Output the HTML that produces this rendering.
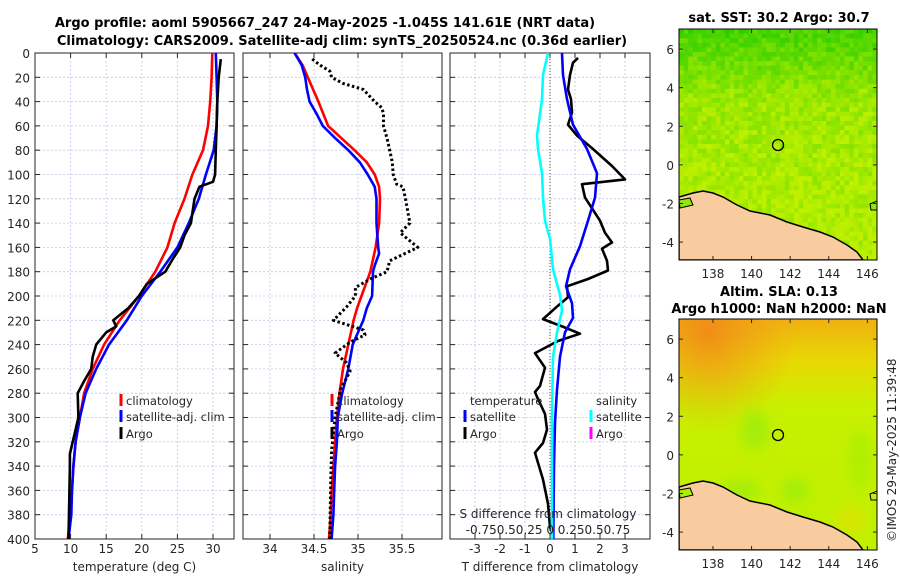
<!DOCTYPE html>
<html><head><meta charset="utf-8"><style>
html,body{margin:0;padding:0;background:#fff;}
svg{display:block;font-family:"DejaVu Sans","Liberation Sans",sans-serif;}
.tk{font-size:12px;fill:#262626;}
.lg{font-size:11.5px;fill:#262626;}
.tt{font-size:13px;font-weight:bold;fill:#000;}
</style></head><body>
<svg id="svg" width="900" height="580" viewBox="0 0 900 580" xmlns="http://www.w3.org/2000/svg">
<defs>
<linearGradient id="g2" x1="0" y1="0" x2="0" y2="1">
<stop offset="0" stop-color="#f0b010"/><stop offset="0.18" stop-color="#e8d804"/><stop offset="0.38" stop-color="#c8f000"/><stop offset="1" stop-color="#bef000"/>
</linearGradient>
<radialGradient id="r2" cx="0.15" cy="0.05" r="0.45">
<stop offset="0" stop-color="#f08818" stop-opacity="0.9"/><stop offset="1" stop-color="#f0a018" stop-opacity="0"/>
</radialGradient>
<filter id="bl"><feGaussianBlur stdDeviation="6"/></filter>
<clipPath id="c1"><rect x="679" y="29" width="198" height="231"/></clipPath>
<clipPath id="c2"><rect x="679" y="319" width="198" height="231"/></clipPath>
</defs>

<text class="tt" x="325" y="27" text-anchor="middle">Argo profile: aoml 5905667_247 24-May-2025 -1.045S 141.61E (NRT data)</text>
<text class="tt" x="342" y="45" text-anchor="middle">Climatology: CARS2009. Satellite-adj clim: synTS_20250524.nc (0.36d earlier)</text>

<g id="panels"></g>

<!-- map 1 -->
<g>
<text class="tt" x="779" y="22" text-anchor="middle">sat. SST: 30.2 Argo: 30.7</text>
<g clip-path="url(#c1)">
<rect x="679" y="29" width="198" height="231" fill="#98ec04"/>
<g id="sstcells"></g>
<polygon fill="#f9cca0" stroke="#000" stroke-width="1.5" points="679,197 693,193 703,191 713,193 723,197 737,205 750,211 770,215 787,222 803,227 820,232 833,237 847,245 857,252 863,260 679,260"/>
<polygon fill="#8ee808" stroke="#000" stroke-width="1" points="679,200 690,198 693,205 680,208"/>
<polygon fill="#8ee808" stroke="#000" stroke-width="1" points="870,204 877,201 877,210 871,210"/>
</g>
<rect x="679" y="29" width="198" height="231" fill="none" stroke="#000" stroke-width="1"/>
<circle cx="778" cy="145" r="5.5" fill="none" stroke="#000" stroke-width="1.3"/>
<g id="m1ax"></g>
</g>

<!-- map 2 -->
<g>
<text class="tt" x="779" y="296" text-anchor="middle">Altim. SLA: 0.13</text>
<text class="tt" x="779" y="313" text-anchor="middle">Argo h1000: NaN h2000: NaN</text>
<g clip-path="url(#c2)">
<rect x="679" y="319" width="198" height="231" fill="url(#g2)"/>
<rect x="679" y="319" width="198" height="231" fill="url(#r2)"/>
<g filter="url(#bl)" opacity="0.7">
<ellipse cx="755" cy="430" rx="14" ry="20" fill="#98ec08"/>
<ellipse cx="795" cy="490" rx="14" ry="12" fill="#98ec08"/>
<ellipse cx="740" cy="490" rx="20" ry="10" fill="#98ec08"/>
<ellipse cx="860" cy="460" rx="12" ry="30" fill="#a8ee04"/>
<ellipse cx="850" cy="520" rx="16" ry="14" fill="#e0e000"/>
</g>
<polygon fill="#f9cca0" stroke="#000" stroke-width="1.5" points="679,487 693,483 703,481 713,483 723,487 737,495 750,501 770,505 787,512 803,517 820,522 833,527 847,535 857,542 863,550 679,550"/>
<polygon fill="#a8f000" stroke="#000" stroke-width="1" points="679,490 690,488 693,495 680,498"/>
<polygon fill="#c8f000" stroke="#000" stroke-width="1" points="870,494 877,491 877,500 871,500"/>
</g>
<rect x="679" y="319" width="198" height="231" fill="none" stroke="#000" stroke-width="1"/>
<circle cx="778" cy="435" r="5.5" fill="none" stroke="#000" stroke-width="1.3"/>
<g id="m2ax"></g>
</g>
<text class="tk" transform="translate(896,542) rotate(-90)">©IMOS 29-May-2025 11:39:48</text>
</svg>
<script>
// ---------- data ----------
const depthTicks = [0,20,40,60,80,100,120,140,160,180,200,220,240,260,280,300,320,340,360,380,400];
const tempTicks = [5,10,15,20,25,30];
const salTicks = [34,34.5,35,35.5];
const dTTicks = [-3,-2,-1,0,1,2,3];

const climTDepth = [0,20,40,60,80,100,120,140,160,180,200,220,240,260,280,300,320,340,360,380,400];
const climT = [29.9,29.8,29.6,29.3,28.6,27.1,26.0,24.6,23.6,21.9,19.6,16.9,14.7,13.1,11.9,11.3,10.7,10.4,10.2,10.0,9.6];
const satTDepth = [0,20,40,60,80,100,120,140,160,180,200,220,240,260,280,300,320,340,360,380,400];
const satT = [30.4,30.5,30.6,30.5,30.1,29.0,28.0,26.6,25.0,22.6,20.0,17.9,15.4,13.6,12.1,11.3,10.7,10.4,10.2,10.1,9.7];
const argoTDepth = [5,20,40,60,80,100,106,110,120,140,150,160,170,180,190,200,210,220,225,230,240,250,260,270,280,300,310,320,330,340,400];
const argoT = [31.1,30.8,30.6,30.5,30.4,30.3,30.0,28.1,27.4,26.9,26.0,25.4,24.3,23.3,20.7,19.6,18.1,16.0,16.4,15.0,13.6,13.1,12.9,11.9,11.0,11.1,10.7,10.3,9.9,9.9,9.7];

const climSDepth = [0,10,20,40,60,80,90,100,110,120,140,160,180,200,210,220,240,260,280,300,320,340,360,380,400];
const climS = [34.28,34.37,34.43,34.55,34.66,34.96,35.1,35.19,35.24,35.25,35.24,35.2,35.14,35.04,34.99,34.95,34.89,34.83,34.79,34.76,34.74,34.72,34.70,34.69,34.67];
const satSDepth = [0,10,20,30,40,50,60,70,80,90,100,110,120,140,160,165,175,180,200,210,220,230,240,260,280,300,320,340,360,380,400];
const satS = [34.28,34.36,34.40,34.42,34.45,34.53,34.60,34.74,34.89,35.02,35.11,35.19,35.21,35.21,35.23,35.24,35.19,35.17,35.16,35.10,35.06,35.00,34.94,34.89,34.82,34.77,34.76,34.74,34.73,34.72,34.70];
const argoSDepth = [5,10,15,20,25,30,40,45,50,60,70,80,90,100,108,110,120,140,148,160,171,180,186,193,200,209,220,228,232,238,247,255,262,277,300,327,354,400];
const argoS = [34.48,34.57,34.68,34.70,34.83,35.06,35.19,35.27,35.29,35.29,35.33,35.36,35.39,35.40,35.44,35.51,35.54,35.59,35.48,35.68,35.36,35.33,35.14,34.97,34.97,34.87,34.72,35.06,35.08,34.91,34.74,34.87,34.91,34.80,34.74,34.70,34.69,34.68];

const satDTDepth = [0,18,38,59,79,99,119,138,159,178,192,206,218,230,250,277,304,340,400];
const satDT = [0.48,0.52,0.68,0.92,1.48,1.88,1.8,1.52,1.2,0.8,0.64,0.88,0.92,0.6,0.4,0.28,0.2,0.16,0.13];
const satDSDepth = [0,18,38,68,79,99,119,138,153,178,199,212,230,250,300,400];
const satDS = [-0.02,-0.07,-0.08,-0.13,-0.12,-0.08,-0.07,-0.05,0,0.03,0.10,0.12,0.07,0.03,0.02,0.02];
const argoDTDepth = [4,8,18,30,38,49,59,68,79,93,104,108,119,138,148,156,161,171,179,186,192,201,208,219,225,231,237,247,259,274,279,283,297,310,321,329,351,371,390,398];
const argoDT = [1.12,0.92,0.8,0.72,0.84,0.88,0.72,1.08,1.72,2.48,3.0,1.28,1.4,2.0,2.2,2.48,2.08,2.28,2.32,1.52,0.68,0.72,0.32,-0.28,0.48,1.2,0.32,-0.6,-0.2,-0.4,-0.6,-0.52,-0.2,-0.12,-0.28,-0.6,-0.28,-0.08,0,0.12];

const lonTicks = [138,140,142,144,146];
const latTicks = [-4,-2,0,2,4,6];

// ---------- helpers ----------
const NS = 'http://www.w3.org/2000/svg';
const root = document.getElementById('panels');
function mk(tag, attrs, parent){ const e=document.createElementNS(NS,tag); for(const k in attrs) e.setAttribute(k,attrs[k]); (parent||root).appendChild(e); return e; }
const Y0=53, Y1=539;
const yD = d => Y0 + d*(Y1-Y0)/400;
function xs(x0,x1,v0,v1){ return v => x0 + (v-v0)*(x1-x0)/(v1-v0); }

function panel(name, x0, x1, xf, ticks, labelTicks, xlabel, showY){
  const g = mk('g',{});
  
  
  depthTicks.forEach(d=>{
    mk('line',{x1:x0,x2:x1,y1:yD(d),y2:yD(d),stroke:'#c0c6e6','stroke-width':0.8,'stroke-dasharray':'2,2'},g);
  });
  ticks.forEach(t=>{
    mk('line',{x1:xf(t),x2:xf(t),y1:Y0,y2:Y1,stroke:'#c0c6e6','stroke-width':0.8,'stroke-dasharray':'2,2'},g);
  });
  depthTicks.forEach(d=>{
    mk('line',{x1:x0,x2:x0+5,y1:yD(d),y2:yD(d),stroke:'#262626'},g);
    mk('line',{x1:x1-5,x2:x1,y1:yD(d),y2:yD(d),stroke:'#262626'},g);
    if(showY){ const t=mk('text',{x:x0-5,y:yD(d)+5,'text-anchor':'end',class:'tk'},g); t.textContent=d;
        }
  });
  ticks.forEach(v=>{
    mk('line',{x1:xf(v),x2:xf(v),y1:Y1,y2:Y1-5,stroke:'#262626'},g);
    mk('line',{x1:xf(v),x2:xf(v),y1:Y0,y2:Y0+5,stroke:'#262626'},g);
  });
  if(labelTicks){ labelTicks.forEach(v=>{
    const t=mk('text',{x:xf(v),y:553,'text-anchor':'middle',class:'tk'},g); t.textContent=v;
      }); }
  const xl=mk('text',{x:(x0+x1)/2,y:571,'text-anchor':'middle',class:'tk'},g); xl.textContent=xlabel;
  
  
  mk('rect',{x:x0,y:Y0,width:x1-x0,height:Y1-Y0,fill:'none',stroke:'#262626','stroke-width':1},g);
  return g;
}
function line(g, name, depths, vals, xf, color, dash, w){
  const pts = depths.map((d,i)=>xf(vals[i]).toFixed(1)+','+yD(d).toFixed(1)).join(' ');
  const p = mk('polyline',{points:pts,fill:'none',stroke:color,'stroke-width':w||2.6,'stroke-linejoin':'round'},g);
  if(dash) p.setAttribute('stroke-dasharray',dash);
  
  
}
function legend(g, x, y, color, label, name){
  mk('rect',{x:x-1.5,y:y-11,width:3,height:12,fill:color},g);
  const t=mk('text',{x:x+5,y:y,class:'lg'},g); t.textContent=label;
  
  
}

// Panel 1: temperature
const xT = xs(35,213,5,30);
const p1 = panel('temperature-panel',35,234,xT,tempTicks,tempTicks,'temperature (deg C)',true);
line(p1,'climatology-temperature-line',climTDepth,climT,xT,'#ff0000');
line(p1,'satellite-temperature-line',satTDepth,satT,xT,'#0000ff');
line(p1,'argo-temperature-line',argoTDepth,argoT,xT,'#000000');
legend(p1,121,405,'#ff0000','climatology','legend-climatology');
legend(p1,121,421,'#0000ff','satellite-adj. clim','legend-satellite');
legend(p1,121,438,'#000000','Argo','legend-argo');

// Panel 2: salinity
const xS = xs(270,358,34,35);
const p2 = panel('salinity-panel',243,442,xS,salTicks,salTicks,'salinity',false);
line(p2,'climatology-salinity-line',climSDepth,climS,xS,'#ff0000');
line(p2,'satellite-salinity-line',satSDepth,satS,xS,'#0000ff');
line(p2,'argo-salinity-line',argoSDepth,argoS,xS,'#000000','2.5,2.5',3);
legend(p2,332,405,'#ff0000','climatology','legend-s-climatology');
legend(p2,332,421,'#0000ff','satellite-adj. clim','legend-s-satellite');
legend(p2,332,438,'#000000','Argo','legend-s-argo');

// Panel 3: differences
const xDT = xs(450,650,-4,4);
const xDS = xs(450,650,-1,1);
const p3 = panel('difference-panel',450,650,xDT,dTTicks,dTTicks,'T difference from climatology',false);
mk('line',{x1:xDT(0),x2:xDT(0),y1:Y0,y2:Y1,stroke:'#6a4a2a','stroke-width':1,'stroke-dasharray':'1,2'},p3);
line(p3,'argo-temperature-difference-line',argoDTDepth,argoDT,xDT,'#000000');
line(p3,'satellite-temperature-difference-line',satDTDepth,satDT,xDT,'#0000ff');
line(p3,'satellite-salinity-difference-line',satDSDepth,satDS,xDS,'#00ffff');
{
 const t1=mk('text',{x:470,y:405,class:'lg'},p3); t1.textContent='temperature';
  
 const t2=mk('text',{x:596,y:405,class:'lg'},p3); t2.textContent='salinity';
  
}
legend(p3,465,421,'#0000ff','satellite','legend-dt-satellite');
legend(p3,465,438,'#000000','Argo','legend-dt-argo');
legend(p3,591,421,'#00ffff','satellite','legend-ds-satellite');
legend(p3,591,438,'#ff00ff','Argo','legend-ds-argo');
{
 const t=mk('text',{x:548,y:518,'text-anchor':'middle',class:'tk'},p3); t.textContent='S difference from climatology';
  
 const u=mk('text',{x:548,y:534,'text-anchor':'middle',class:'tk'},p3); u.textContent='-0.750.50.25 0 0.250.50.75';
  
}

// SST raster texture (decorative image cells)
(function(){
  const g=document.getElementById('sstcells');
  const cs=4.6;
  for(let j=0;j<51;j++){
    for(let i=0;i<44;i++){
      const h = Math.abs(Math.sin(i*12.9898 + j*78.233)*43758.5453)%1;
      const f = j/50;
      let gr = f<0.3 ? 0.3+f*1.7 : 0.8 + (f-0.3)*0.25;
      gr = Math.min(1, Math.max(0, gr + (h-0.5)*0.35));
      const r = Math.round(20 + gr*170), gg = Math.round(200 + gr*40), b = 0;
      mk('rect',{x:(679+i*cs).toFixed(1),y:(29+j*cs).toFixed(1),width:cs+0.3,height:cs+0.3,fill:`rgb(${r},${gg},${b})`},g);
    }
  }
})();

// Map axes
function mapAxes(gid, top, bottom){
  const g=document.getElementById(gid);
  const xl = xs(679,877,136.24,146.5);
  const yl = v => top + (7.04 - v)*19.3;
  lonTicks.forEach(v=>{
    mk('line',{x1:xl(v),x2:xl(v),y1:bottom,y2:bottom-4,stroke:'#262626'},g);
    mk('line',{x1:xl(v),x2:xl(v),y1:top,y2:top+4,stroke:'#262626'},g);
    const t=mk('text',{x:xl(v),y:bottom+18,'text-anchor':'middle',class:'tk'},g); t.textContent=v;
     
  });
  latTicks.forEach(v=>{
    mk('line',{x1:679,x2:683,y1:yl(v),y2:yl(v),stroke:'#262626'},g);
    mk('line',{x1:873,x2:877,y1:yl(v),y2:yl(v),stroke:'#262626'},g);
    const t=mk('text',{x:674,y:yl(v)+5,'text-anchor':'end',class:'tk'},g); t.textContent=v;
     
  });
}
mapAxes('m1ax',29,260);
mapAxes('m2ax',319,550);
</script>
</body></html>
